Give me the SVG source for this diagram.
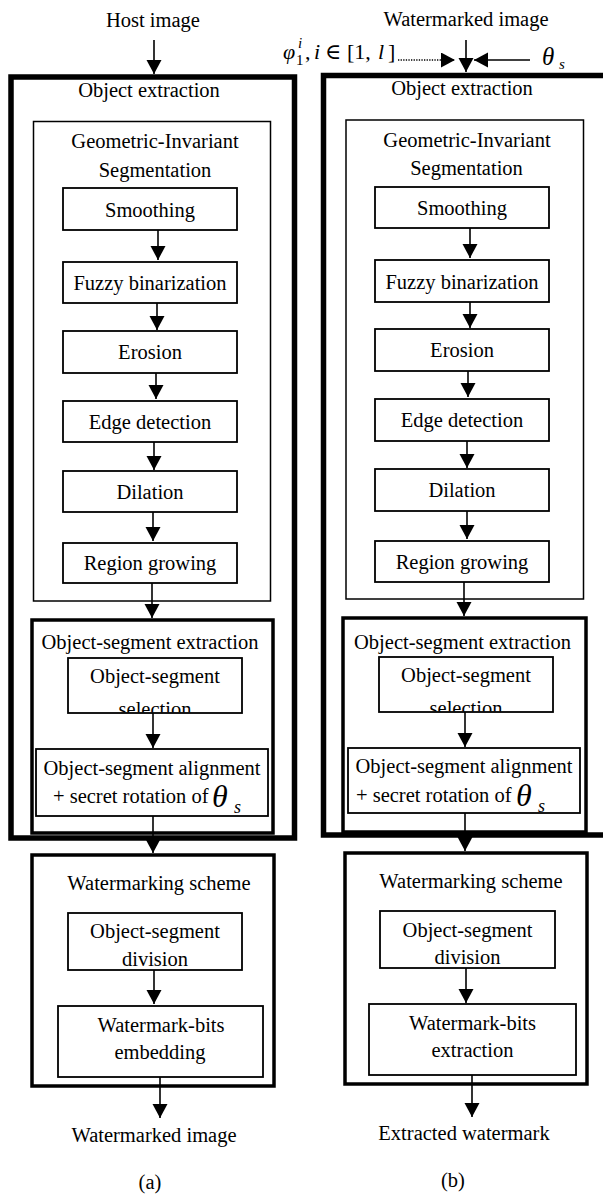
<svg xmlns="http://www.w3.org/2000/svg" width="603" height="1196" viewBox="0 0 603 1196" font-family="'Liberation Serif', 'DejaVu Serif', serif">
<defs>
<style>
text{font-family:'Liberation Serif','DejaVu Serif',serif;font-size:20.5px;fill:#000;}
.c{text-anchor:middle;}
.it{font-style:italic;}
text.f22{font-size:22px;}
text.f15{font-size:15px;}
text.f18{font-size:18px;}
text.f25{font-size:25px;}
text.f32{font-size:32px;}
.outer{fill:none;stroke:#000;stroke-width:5.5;}
.mid{fill:none;stroke:#000;stroke-width:3.5;}
.gi{fill:none;stroke:#000;stroke-width:1.5;}
.box{fill:#fff;stroke:#000;stroke-width:1.8;}
.ln{stroke:#000;stroke-width:1.6;fill:none;}
.dot{stroke:#000;stroke-width:1.3;stroke-dasharray:1.3 1.3;fill:none;}
</style>
<marker id="ah" markerUnits="userSpaceOnUse" markerWidth="16" markerHeight="16" refX="14" refY="7.5" orient="auto">
<path d="M0,0 L14,7.5 L0,15 z" fill="#000"/>
</marker>
<clipPath id="clipL"><rect x="68" y="658" width="174" height="54.5"/></clipPath>
<clipPath id="clipR"><rect x="379" y="657" width="174" height="54.5"/></clipPath>
</defs>
<rect width="603" height="1196" fill="#fff"/>

<!-- inputs -->
<g id="input-left"><text class="c" x="153" y="27">Host image</text></g>
<g id="input-right">
<text class="c" x="466" y="26">Watermarked image</text>
<text x="283" y="59" class="f22 it">φ</text>
<text x="296" y="65" class="f15">1</text>
<text x="298" y="48" class="f15 it">i</text>
<text x="305" y="59" class="f22">,</text>
<text x="314" y="59" class="f22 it">i</text>
<text x="325" y="59" class="f22">∈</text>
<text x="347" y="59" class="f22">[1,</text>
<text x="378" y="59" class="f22 it">l</text>
<text x="388" y="59" class="f22">]</text>
<text x="542" y="65" class="f25 it">θ</text>
<text x="559" y="69" class="f15 it">s</text>
</g>

<!-- left column -->
<g id="left-object-extraction">
<rect class="outer" x="11" y="77" width="283.5" height="761"/>
<text class="c" x="149" y="97">Object extraction</text>
</g>
<g id="left-gis">
<rect class="gi" x="33.5" y="121.5" width="237" height="479.5"/>
<text class="c" x="155" y="148">Geometric-Invariant</text>
<text class="c" x="155" y="177">Segmentation</text>
</g>
<g id="left-smoothing"><rect class="box" x="63" y="188" width="174" height="42"/><text class="c" x="150" y="216.5">Smoothing</text></g>
<g id="left-fuzzy"><rect class="box" x="63" y="262" width="174" height="41"/><text class="c" x="150" y="290">Fuzzy binarization</text></g>
<g id="left-erosion"><rect class="box" x="63" y="331" width="174" height="42"/><text class="c" x="150" y="359">Erosion</text></g>
<g id="left-edge"><rect class="box" x="63" y="401" width="174" height="41"/><text class="c" x="150" y="428.5">Edge detection</text></g>
<g id="left-dilation"><rect class="box" x="63" y="471" width="174" height="41"/><text class="c" x="150" y="498.5">Dilation</text></g>
<g id="left-region"><rect class="box" x="63" y="543" width="174" height="40"/><text class="c" x="150" y="570">Region growing</text></g>
<g id="left-ose">
<rect class="mid" x="32" y="620" width="241" height="213"/>
<text class="c" x="150" y="649">Object-segment extraction</text>
</g>
<g id="left-selection">
<rect class="box" x="68" y="658" width="174" height="55"/>
<text class="c" x="155" y="683">Object-segment</text>
<text class="c" x="155" y="716" clip-path="url(#clipL)">selection</text>
</g>
<g id="left-alignment">
<rect class="box" x="36" y="749" width="232" height="67"/>
<text class="c" x="152" y="775">Object-segment alignment</text>
<text x="53" y="803">+ secret rotation of</text>
<text x="212" y="807" class="f32 it">θ</text>
<text x="234" y="813" class="f18 it">s</text>
</g>
<g id="left-wm">
<rect class="mid" x="32" y="855" width="242" height="231"/>
<text class="c" x="159" y="890">Watermarking scheme</text>
</g>
<g id="left-division">
<rect class="box" x="68" y="913" width="174" height="57"/>
<text class="c" x="155" y="938">Object-segment</text>
<text class="c" x="155" y="966">division</text>
</g>
<g id="left-embedding">
<rect class="box" x="58" y="1006" width="205" height="71"/>
<text class="c" x="161" y="1032">Watermark-bits</text>
<text class="c" x="160" y="1059">embedding</text>
</g>
<g id="output-left">
<text class="c" x="154" y="1142">Watermarked image</text>
<text class="c" x="150" y="1189">(a)</text>
</g>

<!-- right column -->
<g id="right-object-extraction">
<rect class="outer" x="323.5" y="75.5" width="292" height="759.5"/>
<text class="c" x="462" y="95">Object extraction</text>
</g>
<g id="right-gis">
<rect class="gi" x="346" y="120" width="237.5" height="479"/>
<text class="c" x="467" y="147">Geometric-Invariant</text>
<text class="c" x="466.5" y="175">Segmentation</text>
</g>
<g id="right-smoothing"><rect class="box" x="375" y="187" width="174" height="41"/><text class="c" x="462" y="215">Smoothing</text></g>
<g id="right-fuzzy"><rect class="box" x="375" y="260" width="174" height="42"/><text class="c" x="462" y="288.5">Fuzzy binarization</text></g>
<g id="right-erosion"><rect class="box" x="375" y="329" width="174" height="42"/><text class="c" x="462" y="357">Erosion</text></g>
<g id="right-edge"><rect class="box" x="375" y="399" width="174" height="42"/><text class="c" x="462" y="427">Edge detection</text></g>
<g id="right-dilation"><rect class="box" x="375" y="469" width="174" height="42"/><text class="c" x="462" y="497">Dilation</text></g>
<g id="right-region"><rect class="box" x="375" y="541" width="174" height="41"/><text class="c" x="462" y="568.5">Region growing</text></g>
<g id="right-ose">
<rect class="mid" x="343" y="618" width="243" height="214"/>
<text class="c" x="462.5" y="649">Object-segment extraction</text>
</g>
<g id="right-selection">
<rect class="box" x="379" y="657" width="174" height="55"/>
<text class="c" x="466" y="682">Object-segment</text>
<text class="c" x="466" y="715" clip-path="url(#clipR)">selection</text>
</g>
<g id="right-alignment">
<rect class="box" x="348" y="748" width="232" height="65"/>
<text class="c" x="464" y="773">Object-segment alignment</text>
<text x="356" y="802">+ secret rotation of</text>
<text x="516" y="806" class="f32 it">θ</text>
<text x="538" y="812" class="f18 it">s</text>
</g>
<g id="right-wm">
<rect class="mid" x="345" y="853" width="242" height="231"/>
<text class="c" x="471" y="888">Watermarking scheme</text>
</g>
<g id="right-division">
<rect class="box" x="380" y="911" width="175" height="57"/>
<text class="c" x="467.5" y="937">Object-segment</text>
<text class="c" x="467.5" y="964">division</text>
</g>
<g id="right-extraction">
<rect class="box" x="369" y="1004" width="207" height="71"/>
<text class="c" x="472.5" y="1030">Watermark-bits</text>
<text class="c" x="472.5" y="1057">extraction</text>
</g>
<g id="output-right">
<text class="c" x="464" y="1140">Extracted watermark</text>
<text class="c" x="453" y="1187">(b)</text>
</g>

<!-- connectors -->
<g id="connectors">
<line class="ln" x1="154" y1="40" x2="154" y2="74" marker-end="url(#ah)"/>
<line class="ln" x1="158" y1="230" x2="158" y2="260" marker-end="url(#ah)"/>
<line class="ln" x1="157" y1="303" x2="157" y2="330" marker-end="url(#ah)"/>
<line class="ln" x1="156" y1="373" x2="156" y2="399" marker-end="url(#ah)"/>
<line class="ln" x1="154" y1="442" x2="154" y2="470" marker-end="url(#ah)"/>
<line class="ln" x1="153" y1="512" x2="153" y2="541" marker-end="url(#ah)"/>
<line class="ln" x1="152" y1="583" x2="152" y2="618" marker-end="url(#ah)"/>
<line class="ln" x1="153" y1="713" x2="153" y2="748" marker-end="url(#ah)"/>
<line class="ln" x1="153" y1="816" x2="153" y2="853" marker-end="url(#ah)"/>
<line class="ln" x1="154" y1="970" x2="154" y2="1004" marker-end="url(#ah)"/>
<line class="ln" x1="160" y1="1077" x2="160" y2="1118" marker-end="url(#ah)"/>

<line class="ln" x1="466" y1="40" x2="466" y2="72" marker-end="url(#ah)"/>
<line class="dot" x1="398" y1="60" x2="455" y2="60" marker-end="url(#ah)"/>
<line class="ln" x1="530" y1="60" x2="474" y2="60" marker-end="url(#ah)"/>
<line class="ln" x1="470" y1="228" x2="470" y2="258" marker-end="url(#ah)"/>
<line class="ln" x1="470" y1="302" x2="470" y2="328" marker-end="url(#ah)"/>
<line class="ln" x1="468" y1="371" x2="468" y2="397" marker-end="url(#ah)"/>
<line class="ln" x1="467" y1="441" x2="467" y2="468" marker-end="url(#ah)"/>
<line class="ln" x1="467" y1="511" x2="467" y2="539" marker-end="url(#ah)"/>
<line class="ln" x1="464" y1="582" x2="464" y2="616" marker-end="url(#ah)"/>
<line class="ln" x1="465" y1="712" x2="465" y2="747" marker-end="url(#ah)"/>
<line class="ln" x1="465" y1="813" x2="465" y2="851" marker-end="url(#ah)"/>
<line class="ln" x1="466" y1="968" x2="466" y2="1003" marker-end="url(#ah)"/>
<line class="ln" x1="472" y1="1075" x2="472" y2="1117" marker-end="url(#ah)"/>
</g>
</svg>
